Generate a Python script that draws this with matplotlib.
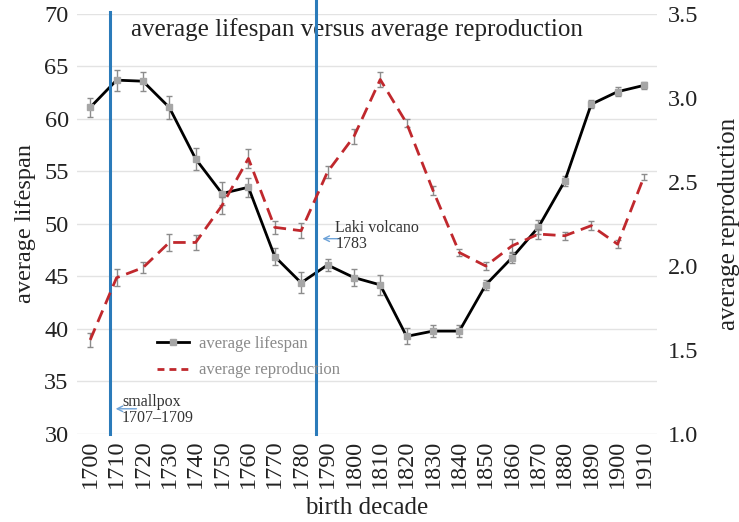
import matplotlib
matplotlib.use("Agg")
import matplotlib.pyplot as plt
from matplotlib.lines import Line2D
import numpy as np

plt.rcParams["font.family"] = ["Liberation Serif", "DejaVu Serif"]

decades = list(range(1700, 1911, 10))
lifespan = [61.1, 63.7, 63.6, 61.1, 56.2, 52.9, 53.5, 46.9, 44.4, 46.1, 44.9,
            44.2, 39.3, 39.8, 39.8, 44.2, 46.8, 49.7, 54.1, 61.4, 62.6, 63.2]
lifespan_err = [0.9, 1.0, 0.9, 1.1, 1.05, 1.1, 0.9, 0.8, 1.0, 0.6, 0.8,
                0.95, 0.75, 0.6, 0.55, 0.45, 0.5, 0.65, 0.5, 0.4, 0.4, 0.35]
reproduction = [1.56, 1.93, 1.99, 2.14, 2.14, 2.36, 2.64, 2.23, 2.21, 2.56, 2.77,
                3.11, 2.85, 2.45, 2.08, 2.0, 2.12, 2.19, 2.18, 2.24, 2.13, 2.53]
reproduction_err = [0.04, 0.05, 0.034, 0.05, 0.045, 0.05, 0.055, 0.04, 0.043, 0.035, 0.045,
                    0.043, 0.025, 0.025, 0.02, 0.025, 0.04, 0.028, 0.025, 0.025, 0.025, 0.02]

# events: position in category units
smallpox_pos = 0.76
laki_pos = 8.58

x = np.arange(len(decades))
dash = (0, (4.5, 2.5))

fig = plt.figure(figsize=(7.39, 5.22), dpi=100)
ax1 = fig.add_axes([0.1042, 0.1686, 0.785, 0.8046])
ax2 = ax1.twinx()

ax1.errorbar(x, lifespan, yerr=lifespan_err, color="black", lw=2,
             marker="s", ms=5, mfc="#a6a6a6", mec="#a6a6a6",
             ecolor="#8c8c8c", elinewidth=1, capsize=2.5, zorder=3)
ax2.errorbar(x, reproduction, yerr=reproduction_err, color="#c0282d", lw=2,
             linestyle=dash, ecolor="#8c8c8c", elinewidth=1, capsize=2.5)

ax1.set_xlim(-0.5, len(decades) - 0.5)
ax1.set_ylim(30, 70)
ax2.set_ylim(1.0, 3.5)
ax1.set_yticks(range(30, 71, 5))
ax2.set_yticks([1.0, 1.5, 2.0, 2.5, 3.0, 3.5])
ax2.set_yticklabels(["1.0", "1.5", "2.0", "2.5", "3.0", "3.5"])
ax1.set_xticks(x)
ax1.set_xticklabels([str(d) for d in decades], rotation=90)

ax1.grid(axis="y", color="#e3e3e3", lw=1)
ax1.set_axisbelow(True)
for ax in (ax1, ax2):
    for s in ax.spines.values():
        s.set_visible(False)
    ax.tick_params(length=0, labelsize=17.5, colors="#222222")
ax1.tick_params(axis="x", pad=4)
ax1.tick_params(axis="y", pad=6)
ax2.tick_params(axis="y", pad=8)

ax1.set_xlabel("birth decade", fontsize=18, color="#222222", labelpad=6)
ax1.set_ylabel("average lifespan", fontsize=17.5, color="#222222", labelpad=6)
ax2.set_ylabel("average reproduction", fontsize=18, color="#222222", labelpad=14)

# event lines
ax1.axvline(smallpox_pos, ymin=0, ymax=1.005, color="#2b7bba", lw=2.2, clip_on=False, zorder=4)
ax1.axvline(laki_pos, ymin=0, ymax=1.034, color="#2b7bba", lw=2.2, clip_on=False, zorder=4)

ax1.annotate("", xy=(laki_pos + 0.12, 48.6), xytext=(laki_pos + 1.0, 48.6),
             arrowprops=dict(arrowstyle="->", color="#6ea3d8", lw=1))
ax1.text(laki_pos + 0.72, 48.9, "Laki volcano\n1783", fontsize=11.5, color="#333333",
         va="center", ha="left", linespacing=1.0)
ax1.annotate("", xy=(smallpox_pos + 0.1, 32.4), xytext=(smallpox_pos + 1.1, 32.4),
             arrowprops=dict(arrowstyle="->", color="#6ea3d8", lw=1))
ax1.text(smallpox_pos + 0.45, 32.3, "smallpox\n1707\u20131709", fontsize=11.5, color="#333333",
         va="center", ha="left", linespacing=1.0)

ax1.text(0.482, 0.962, "average lifespan versus average reproduction", transform=ax1.transAxes,
         ha="center", va="center", fontsize=18, color="#222222")

handles = [
    Line2D([], [], color="black", lw=2, marker="s", ms=4, mfc="#a6a6a6", mec="#a6a6a6"),
    Line2D([], [], color="#c0282d", lw=2, linestyle=(0, (2.5, 1.8))),
]
leg = ax2.legend(handles, ["average lifespan", "average reproduction"], loc="upper left",
                 bbox_to_anchor=(0.112, 0.27), frameon=False, fontsize=12,
                 handlelength=1.9, handletextpad=0.6, labelspacing=0.65)
for t in leg.get_texts():
    t.set_color("#8a8a8a")

fig.savefig("out.png", dpi=100)
